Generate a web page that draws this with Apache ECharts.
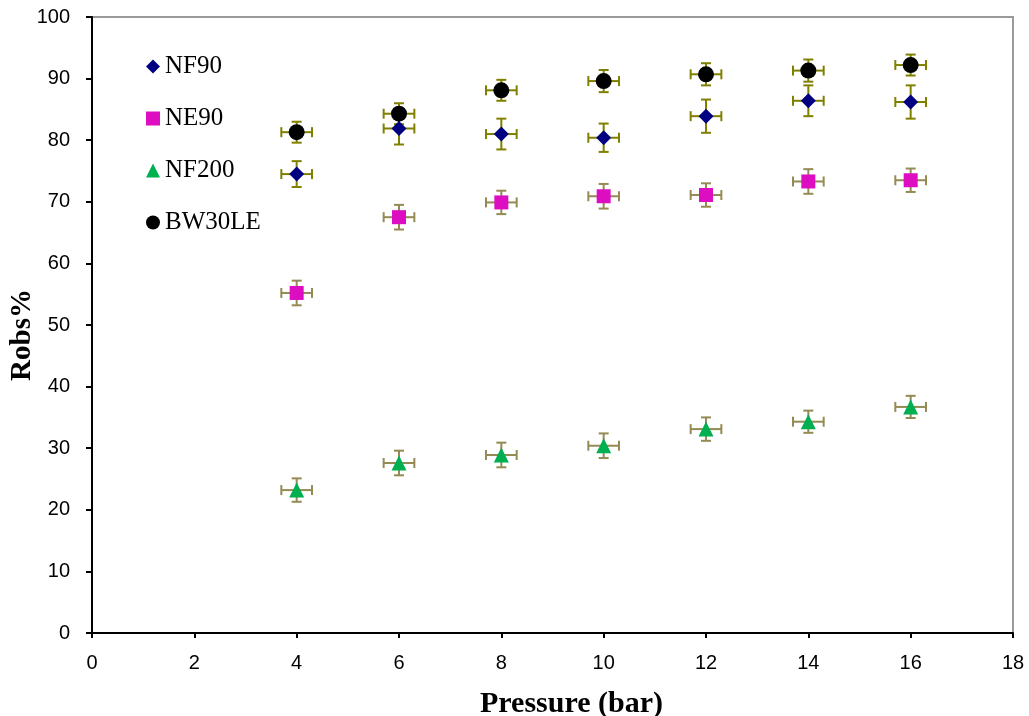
<!DOCTYPE html>
<html>
<head>
<meta charset="utf-8">
<script src="https://cdn.jsdelivr.net/npm/echarts@6/dist/echarts.min.js"></script>
<style>html,body{margin:0;padding:0;background:#fff}#chart{width:1029px;height:716px}</style>
</head>
<body>
<div id="chart"></div>
<script>
const pressures = [4, 6, 8, 10, 12, 14, 16];
const nf90 = [74.5, 81.9, 81.0, 80.4, 83.9, 86.4, 86.2];
const nf90Err = [2.1, 2.6, 2.5, 2.3, 2.7, 2.5, 2.7];
const ne90 = [55.2, 67.5, 69.9, 70.9, 71.1, 73.3, 73.5];
const ne90Err = [2.0, 2.0, 1.9, 2.0, 1.9, 2.0, 1.9];
const nf200 = [23.2, 27.6, 28.9, 30.4, 33.1, 34.3, 36.7];
const nf200Err = [1.9, 2.0, 2.0, 2.0, 1.9, 1.8, 1.8];
const bw30le = [81.3, 84.3, 88.1, 89.6, 90.7, 91.3, 92.2];
const bw30leErr = [1.7, 1.7, 1.7, 1.8, 1.8, 1.8, 1.7];
const pressureErr = [0.3, 0.3, 0.3, 0.3, 0.3, 0.3, 0.3];
const xTicks = [0, 2, 4, 6, 8, 10, 12, 14, 16, 18];
const yTicks = [0, 10, 20, 30, 40, 50, 60, 70, 80, 90, 100];

const seriesDefs = [
  {name: 'NF90', vals: nf90, err: nf90Err, symbol: 'diamond', size: 15, color: '#000080', errColor: '#808000'},
  {name: 'NE90', vals: ne90, err: ne90Err, symbol: 'rect', size: 14, color: '#DD0DC2', errColor: '#948A54'},
  {name: 'NF200', vals: nf200, err: nf200Err, symbol: 'triangle', size: 15, color: '#00B050', errColor: '#948A54'},
  {name: 'BW30LE', vals: bw30le, err: bw30leErr, symbol: 'circle', size: 16, color: '#000000', errColor: '#808000'}
];

function errRender(color) {
  return function (params, api) {
    const x = api.value(0), y = api.value(1), ey = api.value(2), ex = api.value(3);
    const top = api.coord([x, y + ey]);
    const bot = api.coord([x, y - ey]);
    const lft = api.coord([x - ex, y]);
    const rgt = api.coord([x + ex, y]);
    const c = 5;
    const st = {stroke: color, lineWidth: 2};
    return {
      type: 'group',
      children: [
        {type: 'line', shape: {x1: top[0], y1: top[1], x2: bot[0], y2: bot[1]}, style: st},
        {type: 'line', shape: {x1: top[0] - c, y1: top[1], x2: top[0] + c, y2: top[1]}, style: st},
        {type: 'line', shape: {x1: bot[0] - c, y1: bot[1], x2: bot[0] + c, y2: bot[1]}, style: st},
        {type: 'line', shape: {x1: lft[0], y1: lft[1], x2: rgt[0], y2: rgt[1]}, style: st},
        {type: 'line', shape: {x1: lft[0], y1: lft[1] - c, x2: lft[0], y2: lft[1] + c}, style: st},
        {type: 'line', shape: {x1: rgt[0], y1: rgt[1] - c, x2: rgt[0], y2: rgt[1] + c}, style: st}
      ]
    };
  };
}

const series = [];
seriesDefs.forEach(function (d) {
  series.push({
    name: d.name + ' error',
    type: 'custom',
    renderItem: errRender(d.errColor),
    data: pressures.map(function (p, i) { return [p, d.vals[i], d.err[i], pressureErr[i]]; }),
    z: 2,
    silent: true
  });
});
seriesDefs.forEach(function (d) {
  series.push({
    name: d.name,
    type: 'scatter',
    symbol: d.symbol,
    symbolSize: d.size,
    itemStyle: {color: d.color, opacity: 1},
    data: pressures.map(function (p, i) { return [p, d.vals[i]]; }),
    z: 5
  });
});

const chart = echarts.init(document.getElementById('chart'), null, {renderer: 'canvas'});
chart.setOption({
  animation: false,
  backgroundColor: '#ffffff',
  grid: {left: 92, right: 16, top: 17, bottom: 83, containLabel: false, outerBoundsMode: 'none',
    show: true, borderColor: '#9a9a9a', borderWidth: 2, backgroundColor: 'transparent'},
  legend: {
    data: seriesDefs.map(function (d) { return {name: d.name, icon: d.symbol}; }),
    orient: 'vertical',
    left: 141,
    top: 49,
    itemWidth: 14,
    itemHeight: 14,
    itemGap: 27,
    textStyle: {fontFamily: 'Liberation Serif', fontSize: 25, color: '#000'}
  },
  xAxis: {
    type: 'value', min: 0, max: 18, interval: 2,
    name: 'Pressure (bar)', nameLocation: 'middle', nameGap: 56, nameMoveOverlap: false,
    nameTextStyle: {fontFamily: 'Liberation Serif', fontWeight: 'bold', fontSize: 30, color: '#000', padding: [0, 0, 0, 38]},
    axisLine: {show: true, lineStyle: {color: '#000', width: 2}},
    axisTick: {show: true, length: 5, lineStyle: {color: '#000', width: 2}},
    axisLabel: {fontFamily: 'Liberation Sans', fontSize: 20, color: '#000', margin: 20,
      formatter: function (v) { return xTicks.indexOf(v) >= 0 ? String(v) : ''; }},
    splitLine: {show: false}
  },
  yAxis: {
    type: 'value', min: 0, max: 100, interval: 10,
    name: 'Robs%', nameLocation: 'middle', nameGap: 55, nameRotate: 90, nameMoveOverlap: false,
    nameTextStyle: {fontFamily: 'Liberation Serif', fontWeight: 'bold', fontSize: 29, color: '#000', padding: [0, 20, 0, 0]},
    axisLine: {show: true, lineStyle: {color: '#000', width: 2}},
    axisTick: {show: true, length: 6, lineStyle: {color: '#000', width: 2}},
    axisLabel: {fontFamily: 'Liberation Sans', fontSize: 20, color: '#000', margin: 22,
      formatter: function (v) { return yTicks.indexOf(v) >= 0 ? String(v) : ''; }},
    splitLine: {show: false}
  },
  series: series
});
</script>
</body>
</html>
